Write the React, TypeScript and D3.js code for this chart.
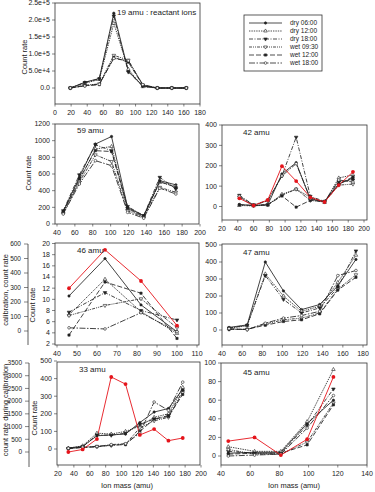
import React from "react";
import * as d3 from "d3";

// ---------- data ----------
const seriesNames = ["dry 06:00", "dry 12:00", "dry 18:00", "wet 09:30", "wet 12:00", "wet 18:00"];

const mass19 = [19, 37, 55, 73, 91, 109, 127, 145, 163];
const rate19 = [
  [0, 17000, 28000, 220000, 50000, 5000, 0, 0, 0],
  [0, 14000, 25000, 190000, 55000, 4000, 0, 0, 0],
  [0, 16000, 27000, 212000, 47000, 6000, 0, 0, 0],
  [0, 8000, 12000, 96000, 82000, 9000, 0, 0, 0],
  [0, 7000, 10000, 90000, 76000, 8000, 0, 0, 0],
  [0, 6000, 11000, 87000, 80000, 10000, 0, 0, 0],
];

const mass59 = [47, 65, 83, 101, 119, 137, 155, 173];
const rate59 = [
  [150, 560, 960, 1050, 200, 100, 520, 470],
  [140, 520, 900, 930, 180, 90, 500, 450],
  [160, 590, 950, 880, 210, 100, 560, 420],
  [130, 500, 830, 750, 160, 80, 440, 380],
  [150, 540, 880, 870, 190, 90, 510, 440],
  [120, 480, 760, 700, 140, 70, 430, 360],
];

const mass42 = [42, 60, 78, 96, 114, 132, 150, 168, 186];
const rate42 = [
  [10, 5, 8, 160, 215, 35, 25, 110, 140],
  [5, 3, 7, 60, 85, 45, 20, 140, 155],
  [55, 8, 30, 150, 340, 50, 25, 120, 130],
  [45, 5, 10, 55, 85, 30, 22, 105, 110],
  [8, 5, 8, 52, -3, 30, 25, 110, 145],
  [50, 6, 28, 150, 210, 40, 22, 130, 120],
];
const calib42 = [40, 5, 32, 198, 125, 45, 22, 105, 170];

const mass46 = [46, 64, 82, 100];
const rate46 = [
  [10.6, 17.3, 9.0, 4.2],
  [7.2, 13.6, 7.8, 3.9],
  [7.7, 11.2, 8.0, 6.3],
  [7.1, 8.9, 10.1, 4.9],
  [3.6, 13.1, 11.1, 3.0],
  [4.9, 4.7, 7.6, 4.2],
];
const calib46 = [295, 560, 345, 37];

const mass47 = [47, 65, 83, 101, 119, 137, 155, 173];
const rate47 = [
  [15, 30, 400, 230, 120, 150, 260, 415],
  [10, 25, 330, 200, 110, 140, 280, 440],
  [12, 28, 320, 180, 100, 130, 250, 465],
  [5, 3, 35, 60, 70, 100, 240, 325],
  [3, 5, 28, 50, 60, 95, 235, 310],
  [8, 2, 40, 70, 85, 110, 320, 350],
];

const mass33 = [33, 51, 69, 87, 105, 123, 141, 159, 177];
const rate33 = [
  [5, 15, 75, 80, 85, 150, 210, 230, 340],
  [5, 18, 90, 85, 100, 130, 180, 200, 350],
  [3, 12, 80, 78, 90, 140, 170, 190, 330],
  [2, 10, 15, 20, 28, 120, 160, 180, 320],
  [3, 8, 12, 22, 25, 100, 170, 185, 310],
  [4, 10, 14, 25, 30, 90, 267, 220, 380],
];
const calib33 = [0, 100, 510, 2950, 2670, 670, 900, 445, 550];

const mass45 = [45, 63, 81, 99, 117];
const rate45 = [
  [3, 4, 4, 35, 60],
  [10, 5, 5, 37, 93],
  [5, 3, 3, 33, 72],
  [7, 2, 2, 15, 57],
  [2, 3, 3, 12, 55],
  [0, 1, 2, 30, 65],
];
const calib45 = [16, 20, 1, 18, 85];

// ---------- styling ----------
const FONT = "'Liberation Sans', Arial, Helvetica, sans-serif";
const INK = "#222";
const AXIS = "#333";
const RED = "#e5141b";
const dashes = ["", "1.4,1", "4,1.5,1,1.5", "3,1,1,1,1,1", "5,2", "6,1.5,1.5,1.5"];
const markerKinds = ["dot", "triUpOpen", "triDown", "triDownOpen", "square", "circleOpen"];

const range = (a: number, b: number, s: number) => d3.range(a, b + s / 2, s);

function Marker({ kind, x, y, color = INK }: { kind: string; x: number; y: number; color?: string }) {
  const open = kind.endsWith("Open");
  let type: d3.SymbolType = d3.symbolCircle;
  let size = 4.5;
  if (kind.startsWith("tri")) { type = d3.symbolTriangle; size = 5.5; }
  if (kind === "square") { type = d3.symbolSquare; size = 5; }
  if (kind === "circleOpen") size = 5.5;
  const path = d3.symbol().type(type).size(size)() || "";
  const rot = kind.startsWith("triDown") ? " rotate(180)" : "";
  return (
    <path
      d={path}
      transform={`translate(${x},${y})${rot}`}
      fill={open ? "#fff" : color}
      stroke={color}
      strokeWidth={0.6}
    />
  );
}

type Spec = {
  box: [number, number, number, number];
  xDomain: [number, number];
  xRange: [number, number];
  yDomain: [number, number];
  yRange: [number, number];
  xTicks: number[];
  yTicks: number[];
  yFmt?: (v: number) => string;
  xs: number[];
  ys: number[][];
  calib?: number[];
  calibScale?: d3.ScaleLinear<number, number>;
  title: string;
  titleAt: [number, number];
  yTitleAt?: [number, number];
  xTitleAt?: [number, number];
};

function Panel(p: Spec) {
  const [x0, y0, x1, y1] = p.box;
  const x = d3.scaleLinear().domain(p.xDomain).range(p.xRange);
  const y = d3.scaleLinear().domain(p.yDomain).range(p.yRange);
  const line = d3.line<[number, number]>().x((d) => d[0]).y((d) => d[1]);
  const fmt = p.yFmt || ((v: number) => String(v));
  const cy = p.calibScale || y;
  return (
    <g>
      <rect x={x0} y={y0} width={x1 - x0} height={y1 - y0} fill="#fff" stroke={AXIS} strokeWidth={0.8} />
      {p.yTicks.map((t) => (
        <g key={"y" + t}>
          <line x1={x0 - 3} x2={x0} y1={y(t)} y2={y(t)} stroke={AXIS} strokeWidth={0.6} />
          <text x={x0 - 5} y={y(t)} dy="0.35em" textAnchor="end" fontSize={7} fill={INK}>{fmt(t)}</text>
        </g>
      ))}
      {p.xTicks.map((t) => (
        <g key={"x" + t}>
          <line x1={x(t)} x2={x(t)} y1={y1} y2={y1 + 2.5} stroke={AXIS} strokeWidth={0.6} />
          <text x={x(t)} y={y1 + 11} textAnchor="middle" fontSize={7} fill={INK}>{t}</text>
        </g>
      ))}
      {p.ys.map((vals, i) => (
        <path
          key={"l" + i}
          d={line(p.xs.map((m, j) => [x(m), y(vals[j])])) || ""}
          fill="none"
          stroke={INK}
          strokeWidth={0.85}
          strokeDasharray={dashes[i]}
        />
      ))}
      {p.calib && (
        <path
          d={line(p.xs.map((m, j) => [x(m), cy(p.calib![j])])) || ""}
          fill="none"
          stroke={RED}
          strokeWidth={0.9}
        />
      )}
      {p.ys.map((vals, i) =>
        p.xs.map((m, j) => <Marker key={`m${i}-${j}`} kind={markerKinds[i]} x={x(m)} y={y(vals[j])} />)
      )}
      {p.calib &&
        p.xs.map((m, j) => <circle key={"c" + j} cx={x(m)} cy={cy(p.calib![j])} r={1.9} fill={RED} />)}
      <text x={p.titleAt[0]} y={p.titleAt[1]} fontSize={8} fill={INK}>{p.title}</text>
      {p.yTitleAt && (
        <text
          transform={`translate(${p.yTitleAt[0]},${p.yTitleAt[1]}) rotate(-90)`}
          textAnchor="middle"
          fontSize={7.5}
          fill={INK}
        >
          Count rate
        </text>
      )}
      {p.xTitleAt && (
        <text x={p.xTitleAt[0]} y={p.xTitleAt[1]} textAnchor="middle" fontSize={7.5} fill={INK}>
          Ion mass (amu)
        </text>
      )}
    </g>
  );
}

function OuterAxis({ xPos, domain, rng, ticks, lineTo, title, titleY }: {
  xPos: number; domain: [number, number]; rng: [number, number]; ticks: number[];
  lineTo: number; title: string; titleY: number;
}) {
  const s = d3.scaleLinear().domain(domain).range(rng);
  return (
    <g>
      <line x1={xPos} x2={xPos} y1={rng[1]} y2={lineTo} stroke={AXIS} strokeWidth={0.8} />
      {ticks.map((t) => (
        <g key={t}>
          <line x1={xPos - 4} x2={xPos} y1={s(t)} y2={s(t)} stroke={AXIS} strokeWidth={0.6} />
          <text x={xPos - 7} y={s(t)} dy="0.35em" textAnchor="end" fontSize={6.5} fill={INK}>{t}</text>
        </g>
      ))}
      <text transform={`translate(8,${titleY}) rotate(-90)`} textAnchor="middle" fontSize={7.5} fill={INK}>
        {title}
      </text>
    </g>
  );
}

function Legend() {
  const lx0 = 249, lx1 = 282, tx = 290, top = 23, step = 8;
  return (
    <g>
      <rect x={244} y={15} width={78} height={56} fill="#fff" stroke={AXIS} strokeWidth={0.8} />
      {seriesNames.map((n, i) => {
        const yy = top + i * step;
        return (
          <g key={n}>
            <line x1={lx0} x2={lx1} y1={yy} y2={yy} stroke={INK} strokeWidth={0.8} strokeDasharray={dashes[i]} />
            <Marker kind={markerKinds[i]} x={(lx0 + lx1) / 2} y={yy} />
            <text x={tx} y={yy} dy="0.35em" fontSize={6.5} fill={INK}>{n}</text>
          </g>
        );
      })}
    </g>
  );
}

export default function App() {
  const upperCalib = d3.scaleLinear().domain([0, 600]).range([331, 244]);
  const lowerCalib = d3.scaleLinear().domain([0, 3500]).range([452, 363]);
  const expFmt = (v: number) => (v === 0 ? "0.0" : v.toExponential(1));
  return (
    <svg width={375} height={492} style={{ position: "absolute", left: 0, top: 0, background: "#fff" }}
      fontFamily={FONT}>
      <rect width={375} height={492} fill="#fff" />
      <OuterAxis xPos={28} domain={[0, 600]} rng={[331, 244]} ticks={range(0, 600, 100)} lineTo={345}
        title="calibration, count rate" titleY={290} />
      <OuterAxis xPos={29} domain={[0, 3500]} rng={[452, 363]} ticks={range(0, 3500, 500)} lineTo={467}
        title="count rate during calibration" titleY={410} />

      <Panel box={[55, 3, 200, 104]} xDomain={[0, 180]} xRange={[55, 200]} yDomain={[0, 250000]} yRange={[88, 3]}
        xTicks={range(0, 180, 20)} yTicks={range(0, 250000, 50000)} yFmt={expFmt}
        xs={mass19} ys={rate19} title="19 amu : reactant ions" titleAt={[117, 15]} yTitleAt={[27, 57]} />

      <Panel box={[55, 124, 199, 224]} xDomain={[40, 200]} xRange={[57, 200]} yDomain={[0, 1200]} yRange={[224, 124]}
        xTicks={range(40, 200, 20)} yTicks={range(0, 1200, 200)}
        xs={mass59} ys={rate59} title="59 amu" titleAt={[77, 133]} yTitleAt={[31, 173]} />

      <Panel box={[222, 125, 367, 220]} xDomain={[20, 200]} xRange={[222, 364]} yDomain={[0, 400]} yRange={[206.5, 125]}
        xTicks={range(20, 200, 20)} yTicks={range(0, 400, 100)}
        xs={mass42} ys={rate42} calib={calib42} title="42 amu" titleAt={[243, 135]} />

      <Panel box={[55, 243, 199, 345]} xDomain={[40, 110]} xRange={[57, 197]} yDomain={[2, 20]} yRange={[344, 243.5]}
        xTicks={range(40, 110, 10)} yTicks={range(2, 20, 2)}
        xs={mass46} ys={rate46} calib={calib46} calibScale={upperCalib}
        title="46 amu" titleAt={[77, 253]} yTitleAt={[35, 305]} />

      <Panel box={[222, 244, 367, 345]} xDomain={[40, 180]} xRange={[222, 363]} yDomain={[0, 500]} yRange={[330, 245]}
        xTicks={range(40, 180, 20)} yTicks={range(0, 500, 100)}
        xs={mass47} ys={rate47} title="47 amu" titleAt={[243, 255]} />

      <Panel box={[57, 362, 200, 465]} xDomain={[20, 200]} xRange={[58, 201]} yDomain={[0, 500]} yRange={[449, 361]}
        xTicks={range(20, 200, 20)} yTicks={range(0, 500, 100)}
        xs={mass33} ys={rate33} calib={calib33} calibScale={lowerCalib}
        title="33 amu" titleAt={[79, 372]} yTitleAt={[37, 418]} xTitleAt={[127, 488]} />

      <Panel box={[221, 363, 367, 465]} xDomain={[40, 140]} xRange={[221, 367]} yDomain={[0, 100]} yRange={[456, 363]}
        xTicks={range(40, 140, 20)} yTicks={range(0, 100, 20)}
        xs={mass45} ys={rate45} calib={calib45} title="45 amu" titleAt={[243, 375]} xTitleAt={[294, 488]} />

      <Legend />
    </svg>
  );
}
